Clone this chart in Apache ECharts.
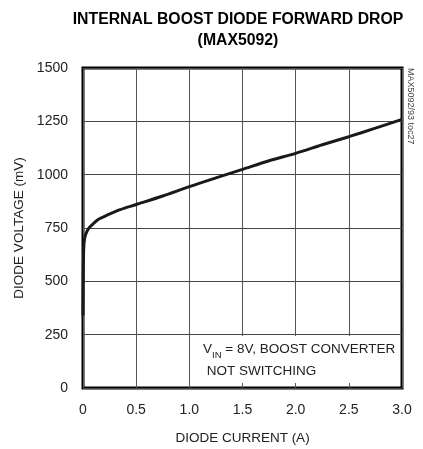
<!DOCTYPE html>
<html>
<head>
<meta charset="utf-8">
<script src="https://cdn.jsdelivr.net/npm/echarts@6/dist/echarts.min.js"></script>
<style>
  html, body { margin: 0; padding: 0; background: #fff; }
  #chart { width: 423px; height: 449px; }
</style>
</head>
<body>
<div id="chart"></div>
<script>
// diode current (A) vs forward voltage (mV)
const current = [0, 0.002, 0.005, 0.01, 0.02, 0.04, 0.06, 0.1, 0.15, 0.23, 0.35, 0.5, 0.75, 1.0, 1.25, 1.5, 1.75, 2.0, 2.25, 2.5, 2.75, 3.0];
const voltage = [340, 500, 620, 680, 712, 737, 752, 772, 792, 811, 836, 860, 900, 944, 985, 1025, 1065, 1100, 1140, 1178, 1218, 1259];
const xTicks = ["0", "0.5", "1.0", "1.5", "2.0", "2.5", "3.0"];

const FONT = "'Liberation Sans', Arial, sans-serif";
const points = current.map((c, i) => [c, voltage[i]]);

const chart = echarts.init(document.getElementById("chart"));

chart.setOption({
    animation: false,
    grid: [{
        left: 83, top: 68, width: 319, height: 320,
        outerBoundsMode: "none", containLabel: false,
        show: true, borderColor: "#000", borderWidth: 3, backgroundColor: "transparent"
    }],
    xAxis: [{
        type: "value", min: 0, max: 3, interval: 0.5,
        name: "DIODE CURRENT (A)", nameLocation: "middle", nameGap: 43,
        nameTextStyle: { fontFamily: FONT, fontSize: 13.5, color: "#222" },
        axisLine: { show: false }, axisTick: { show: false },
        axisLabel: {
            margin: 15, fontFamily: FONT, fontSize: 14, color: "#222",
            formatter: v => xTicks[Math.round(v / 0.5)]
        },
        splitLine: { show: true, lineStyle: { color: "#555", width: 1 } }
    }, {
        // short inner ticks drawn above the note box
        type: "value", min: 0, max: 3, interval: 0.5, position: "bottom", z: 10,
        axisLine: { show: false }, axisLabel: { show: false }, splitLine: { show: false },
        axisTick: { show: true, inside: true, length: 5, lineStyle: { color: "#555", width: 1 } }
    }],
    yAxis: {
        type: "value", min: 0, max: 1500, interval: 250,
        name: "DIODE VOLTAGE (mV)", nameLocation: "middle", nameGap: 55,
        nameTextStyle: { fontFamily: FONT, fontSize: 13.5, color: "#222" },
        axisLine: { show: false }, axisTick: { show: false },
        axisLabel: { margin: 15, fontFamily: FONT, fontSize: 14, color: "#222", formatter: v => String(v) },
        splitLine: { show: true, lineStyle: { color: "#444", width: 1 } }
    },
    series: [{
        type: "line", data: points, showSymbol: false, smooth: 0.3, z: 5,
        lineStyle: { color: "#1a1a1a", width: 3 }
    }],
    graphic: [
        {
            type: "text", x: 238, y: 9, z: 20,
            style: {
                text: "INTERNAL BOOST DIODE FORWARD DROP\n(MAX5092)",
                align: "center", fontFamily: FONT, fontWeight: "bold", fontSize: 15.8,
                lineHeight: 21, fill: "#000"
            }
        },
        {
            type: "rect", z: 1,
            shape: { x: 200, y: 336, width: 199, height: 50 },
            style: { fill: "#fff" }
        },
        {
            type: "text", x: 203, y: 338, z: 20,
            style: {
                text: "{v|V}{s|IN}{v| = 8V, BOOST CONVERTER}\n{v| NOT SWITCHING}",
                rich: {
                    v: { fontFamily: FONT, fontSize: 13.5, fill: "#222", lineHeight: 22 },
                    s: { fontFamily: FONT, fontSize: 9.5, fill: "#222", lineHeight: 22, verticalAlign: "bottom", padding: [5, 0, 0, 0] }
                }
            }
        },
        {
            type: "text", x: 410, y: 68, z: 20, rotation: -Math.PI / 2,
            style: {
                text: "MAX5092/93 toc27", fontFamily: FONT, fontSize: 9, fill: "#444",
                align: "left", verticalAlign: "middle"
            }
        }
    ]
});
</script>
</body>
</html>
